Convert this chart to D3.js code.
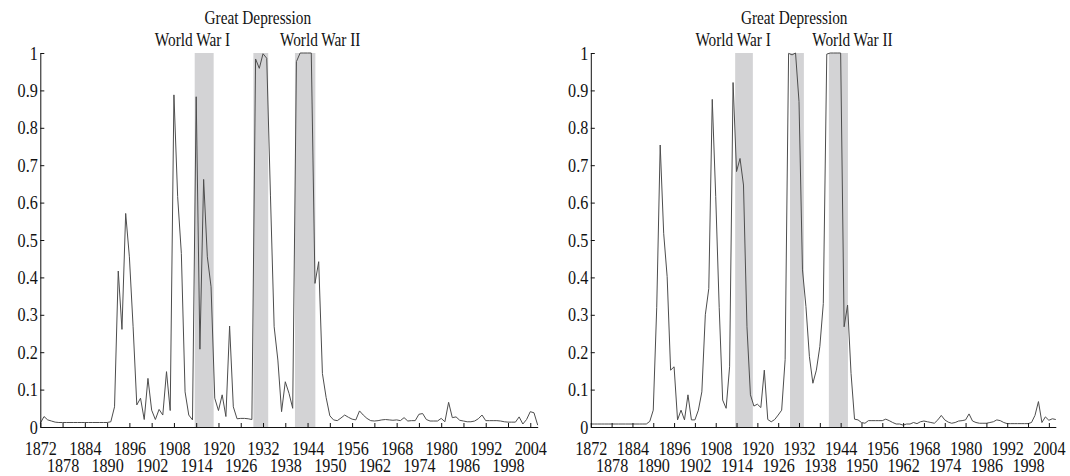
<!DOCTYPE html>
<html>
<head>
<meta charset="utf-8">
<script src="https://cdn.jsdelivr.net/npm/d3@7"></script>
<style>
  body { margin: 0; background: #fff; }
  svg text { font-family: "Liberation Serif", "Times New Roman", serif; fill: #111; }
</style>
</head>
<body>
<svg class="container" width="1070" height="476"></svg>
<script>
const startYear = 1872;
const endYear = 2006;

const xTickYears = [1872, 1878, 1884, 1890, 1896, 1902, 1908, 1914, 1920, 1926, 1932, 1938,
  1944, 1950, 1956, 1962, 1968, 1974, 1980, 1986, 1992, 1998, 2004];
const yTicks = [0, 0.1, 0.2, 0.3, 0.4, 0.5, 0.6, 0.7, 0.8, 0.9, 1];

const bandNames = ["World War I", "Great Depression", "World War II"];
const bandStart = [1913.6, 1929.4, 1940.6];
const bandEnd = [1918.7, 1933.4, 1946.1];
const labelYears = [1913.0, 1930.6, 1947.4];
const labelRows = [1, 0, 1];

// one value per year, 1872..2006
const probLeft = [
  0.010, 0.028, 0.019, 0.016, 0.013, 0.012, 0.012, 0.012, 0.012, 0.012,
  0.012, 0.012, 0.012, 0.012, 0.012, 0.012, 0.012, 0.012, 0.012, 0.014,
  0.054, 0.417, 0.261, 0.571, 0.455, 0.268, 0.059, 0.077, 0.020, 0.130,
  0.045, 0.020, 0.047, 0.032, 0.148, 0.044, 0.888, 0.616, 0.464, 0.094,
  0.032, 0.019, 0.883, 0.208, 0.662, 0.455, 0.375, 0.077, 0.044, 0.086,
  0.028, 0.270, 0.054, 0.022, 0.023, 0.023, 0.022, 0.020, 0.984, 0.959,
  0.998, 0.986, 0.620, 0.268, 0.179, 0.041, 0.121, 0.090, 0.050, 0.977,
  1.000, 1.000, 1.000, 1.000, 0.384, 0.442, 0.143, 0.079, 0.030, 0.019,
  0.017, 0.024, 0.032, 0.026, 0.021, 0.019, 0.043, 0.032, 0.023, 0.017,
  0.016, 0.017, 0.019, 0.020, 0.019, 0.018, 0.019, 0.017, 0.025, 0.016,
  0.017, 0.017, 0.034, 0.036, 0.020, 0.016, 0.016, 0.016, 0.023, 0.014,
  0.066, 0.025, 0.027, 0.018, 0.016, 0.014, 0.014, 0.016, 0.022, 0.032,
  0.017, 0.017, 0.017, 0.017, 0.016, 0.014, 0.013, 0.013, 0.013, 0.027,
  0.008, 0.020, 0.041, 0.038, 0.005
];

const probRight = [
  0.008, 0.008, 0.008, 0.008, 0.008, 0.008, 0.008, 0.008, 0.008, 0.008,
  0.008, 0.008, 0.008, 0.008, 0.008, 0.008, 0.008, 0.015, 0.045, 0.320,
  0.754, 0.518, 0.402, 0.152, 0.161, 0.019, 0.045, 0.019, 0.086, 0.019,
  0.019, 0.045, 0.094, 0.300, 0.370, 0.876, 0.616, 0.320, 0.072, 0.050,
  0.161, 0.921, 0.683, 0.718, 0.647, 0.268, 0.086, 0.056, 0.061, 0.052,
  0.152, 0.020, 0.014, 0.020, 0.032, 0.045, 0.180, 0.999, 0.995, 1.000,
  0.870, 0.420, 0.322, 0.188, 0.117, 0.152, 0.215, 0.330, 0.997, 1.000,
  1.000, 1.000, 1.000, 0.268, 0.326, 0.143, 0.021, 0.019, 0.012, 0.010,
  0.017, 0.017, 0.017, 0.017, 0.017, 0.021, 0.017, 0.012, 0.008, 0.008,
  0.005, 0.008, 0.008, 0.012, 0.009, 0.014, 0.016, 0.014, 0.012, 0.010,
  0.019, 0.031, 0.019, 0.013, 0.010, 0.012, 0.016, 0.017, 0.019, 0.035,
  0.016, 0.012, 0.010, 0.010, 0.010, 0.012, 0.014, 0.019, 0.017, 0.012,
  0.009, 0.009, 0.009, 0.009, 0.009, 0.009, 0.009, 0.012, 0.031, 0.068,
  0.012, 0.027, 0.018, 0.022, 0.020
];

const squeeze = "scale(0.85,1)";

const svg = d3.select(".container");

const renderChart = (values, x0, x1) => {
  const xScale = d3.scaleLinear().domain([startYear, endYear]).range([x0, x1]);
  const yScale = d3.scaleLinear().domain([0, 1]).range([427, 53]);
  const data = values.map((v, i) => ({ year: startYear + i, value: v }));

  const g = svg.append("g");

  // shaded periods
  g.selectAll(".band")
    .data(bandNames)
    .join("rect")
    .attr("class", "band")
    .attr("x", (d, i) => xScale(bandStart[i]))
    .attr("width", (d, i) => xScale(bandEnd[i]) - xScale(bandStart[i]))
    .attr("y", yScale(1))
    .attr("height", yScale(0) - yScale(1))
    .attr("fill", "#d3d3d5");

  const line = d3.line()
    .x(d => xScale(d.year))
    .y(d => yScale(d.value));

  g.append("path")
    .datum(data)
    .attr("d", line)
    .attr("fill", "none")
    .attr("stroke", "#4d4d4d")
    .attr("stroke-width", 1);

  // x axis, ticks inward, labels on two rows
  const xAxis = g.append("g")
    .attr("transform", `translate(0, ${yScale(0)})`)
    .call(d3.axisBottom(xScale).tickValues(xTickYears).tickFormat(d3.format("d"))
      .tickSizeInner(-4).tickSizeOuter(0));
  xAxis.selectAll("text")
    .attr("y", (d, i) => i % 2 === 0 ? 28 : 45)
    .attr("dy", 0)
    .attr("font-size", 19)
    .attr("transform", squeeze);

  // y axis
  const yAxis = g.append("g")
    .attr("transform", `translate(${x0}, 0)`)
    .call(d3.axisLeft(yScale).tickValues(yTicks).tickFormat(d3.format("~g"))
      .tickSizeInner(-4).tickSizeOuter(0).tickPadding(3));
  yAxis.selectAll("text")
    .attr("font-size", 19)
    .attr("transform", squeeze);

  g.selectAll(".domain, .tick line").attr("stroke", "#111");

  // period labels
  g.selectAll(".period")
    .data(bandNames)
    .join("text")
    .attr("class", "period")
    .attr("text-anchor", "middle")
    .attr("font-size", 18)
    .attr("transform", (d, i) => `translate(${xScale(labelYears[i])}, ${labelRows[i] ? 46 : 24}) ${squeeze}`)
    .text(d => d);
};

renderChart(probLeft, 40.3, 537.7);
renderChart(probRight, 590.8, 1055.8);
</script>
</body>
</html>
